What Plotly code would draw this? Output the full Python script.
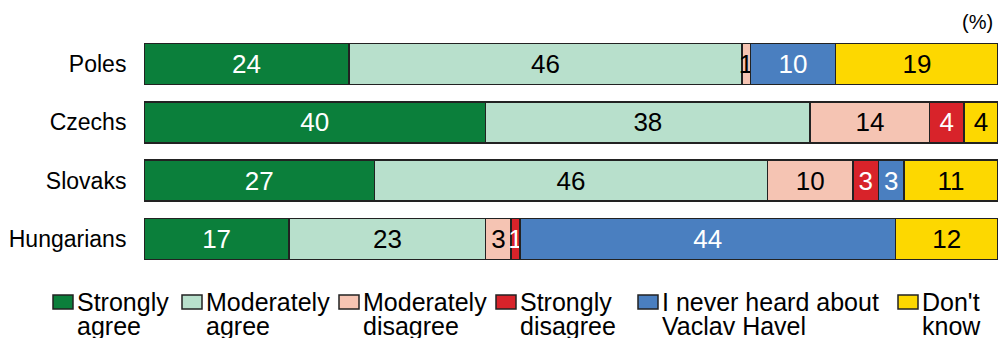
import plotly.graph_objects as go

categories = ["Poles", "Czechs", "Slovaks", "Hungarians"]
series_names = ["Strongly agree", "Moderately agree", "Moderately disagree",
                "Strongly disagree", "I never heard about Vaclav Havel", "Don't know"]
legend_line1 = ["Strongly", "Moderately", "Moderately", "Strongly", "I never heard about", "Don't"]
legend_line2 = ["agree", "agree", "disagree", "disagree", "Vaclav Havel", "know"]
strongly_agree = [24, 40, 27, 17]
moderately_agree = [46, 38, 46, 23]
moderately_disagree = [1, 14, 10, 3]
strongly_disagree = [0, 4, 3, 1]
never_heard = [10, 0, 3, 44]
dont_know = [19, 4, 11, 12]

values = [strongly_agree, moderately_agree, moderately_disagree,
          strongly_disagree, never_heard, dont_know]
colors = ["#0b7f3b", "#b8e0cc", "#f5c4b3", "#d8232a", "#4a7fc0", "#fdd800"]
text_colors = ["white", "black", "black", "white", "white", "black"]

FONT = "Liberation Sans, Arial, sans-serif"

# layout geometry (pixels)
W, H = 1003, 338
ML, MR, MT, MB = 144, 5, 35, 70
PW, PH = W - ML - MR, H - MT - MB


def px_x(px):
    return (px - ML) / PW


def px_y(py):
    return (H - MB - py) / PH


fig = go.Figure()
for name, vals, col, tcol in zip(series_names, values, colors, text_colors):
    fig.add_trace(go.Bar(
        y=categories, x=vals, name=name, orientation="h",
        marker=dict(color=col, line=dict(color="#222222", width=1.5)),
        text=[str(v) if v > 0 else "" for v in vals],
        textposition="inside", insidetextanchor="middle", textangle=0,
        textfont=dict(color=tcol, size=26, family=FONT),
        constraintext="none", cliponaxis=False,
        hoverinfo="skip", showlegend=False,
    ))

# custom legend (two tight lines per entry, like the original)
legend_square_left = [53, 182, 339, 496, 638, 898]
shapes = []
annotations = []
for i, col in enumerate(colors):
    x0 = legend_square_left[i]
    shapes.append(dict(type="rect", xref="paper", yref="paper",
                       x0=px_x(x0), x1=px_x(x0 + 20), y0=px_y(309), y1=px_y(295),
                       fillcolor=col, line=dict(color="#222222", width=1.5)))
    annotations.append(dict(text=legend_line1[i], xref="paper", yref="paper",
                            x=px_x(x0 + 22), y=px_y(302), xanchor="left", yanchor="middle",
                            showarrow=False, font=dict(size=25, family=FONT, color="black")))
    annotations.append(dict(text=legend_line2[i], xref="paper", yref="paper",
                            x=px_x(x0 + 22), y=px_y(326), xanchor="left", yanchor="middle",
                            showarrow=False, font=dict(size=25, family=FONT, color="black")))

annotations.append(dict(text="(%)", xref="paper", yref="paper", x=px_x(995), y=px_y(22),
                        xanchor="right", yanchor="middle", showarrow=False,
                        font=dict(size=20, family=FONT, color="black")))

fig.update_layout(
    width=W, height=H,
    barmode="stack", bargap=0.30,
    margin=dict(l=ML, r=MR, t=MT, b=MB, autoexpand=False),
    paper_bgcolor="white", plot_bgcolor="white",
    font=dict(family=FONT, color="black"),
    uniformtext=dict(mode="show", minsize=26),
    xaxis=dict(range=[0, 100], visible=False, fixedrange=True),
    yaxis=dict(autorange="reversed", showgrid=False, showline=False,
               ticks="outside", ticklen=12, tickcolor="rgba(0,0,0,0)",
               tickfont=dict(size=23, color="black", family=FONT)),
    showlegend=False,
    shapes=shapes,
    annotations=annotations,
)
fig.write_html("out.html")
